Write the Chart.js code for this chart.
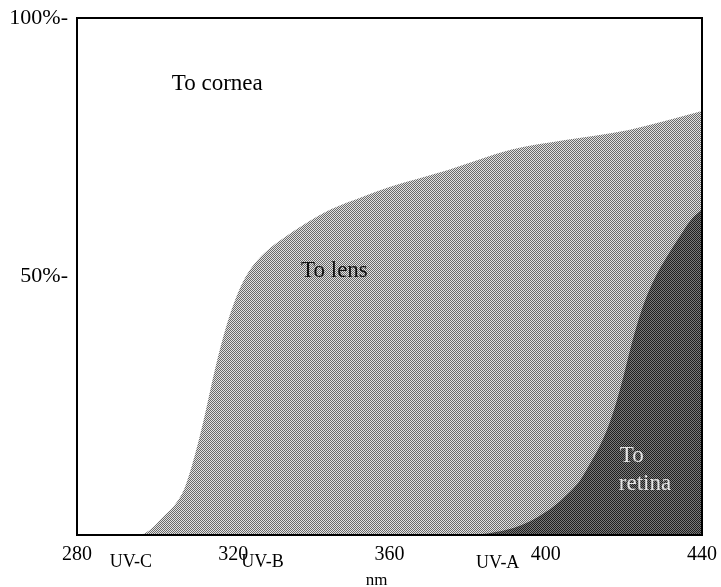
<!DOCTYPE html>
<html>
<head>
<meta charset="utf-8">
<script src="https://cdn.jsdelivr.net/npm/chart.js@4/dist/chart.umd.min.js"></script>
<style>
body{margin:0;background:#fff;}
#wrap{width:721px;height:587px;}
</style>
</head>
<body>
<div id="wrap"><canvas id="uvChart" width="721" height="587"></canvas></div>
<script>
// wavelength (nm) and % of UV reaching each structure
const lensNm=[280,296,299,302,305,307.5,310,312.5,315,317.5,320,322.5,325.5,329,333,338,345,353,360,375,391,405,421,440];
const lensPct=[0,0,1.2,3.5,5.8,9,15,22.5,31,38.5,44.5,49,52.5,55.2,57.5,60,63,65.4,67.3,70.6,74.5,76.4,78.3,82];

const retinaNm=[280,380,385,390,394,398,402,406,409,411.5,414,416,418,420,422,423.5,425.5,428,431,434.5,437,440];
const retinaPct=[0,0,0.3,1,2,3.5,5.5,8.2,10.8,14,17.5,21,25.5,31,37,41,45.5,49.8,53.8,58,60.8,63];

const xTicks=[280,320,360,400,440];
const yTicks=[50,100];

// band labels under the axis
const bandNames=["UV-C","UV-B","UV-A"];
const bandNm=[293.8,327.5,387.7];

const serif='"Liberation Serif", "DejaVu Serif", serif';

function stipple(a,b){
  const c=document.createElement("canvas");
  c.width=2;c.height=2;
  const g=c.getContext("2d");
  g.fillStyle=b;g.fillRect(0,0,2,2);
  g.fillStyle=a;g.fillRect(0,0,1,1);g.fillRect(1,1,1,1);
  return g.createPattern(c,"repeat");
}

function pts(xs,ys){
  return xs.map((x,i)=>({x:x,y:ys[i]}));
}

const labelsPlugin={
  id:"labels",
  afterDraw(chart){
    const ctx=chart.ctx, x=chart.scales.x, y=chart.scales.y, a=chart.chartArea;
    ctx.save();
    // frame
    ctx.strokeStyle="#000";
    ctx.lineWidth=2;
    ctx.strokeRect(a.left,a.top,a.right-a.left,a.bottom-a.top);
    ctx.textAlign="center";
    ctx.textBaseline="middle";
    ctx.fillStyle="#000";
    ctx.font="23px "+serif;
    ctx.fillText("To cornea",x.getPixelForValue(315.9),y.getPixelForValue(87.2));
    ctx.fillStyle="#111";
    ctx.fillText("To lens",x.getPixelForValue(345.9),y.getPixelForValue(51.1));
    ctx.fillStyle="#e4e4e4";
    ctx.fillText("To",x.getPixelForValue(422),y.getPixelForValue(15.3));
    ctx.fillText("retina",x.getPixelForValue(425.4),y.getPixelForValue(9.9));
    ctx.fillStyle="#000";
    ctx.font="18px "+serif;
    bandNames.forEach((n,i)=>{
      ctx.fillText(n,x.getPixelForValue(bandNm[i]),a.bottom+(i==2?28:27));
    });
    ctx.font="17px "+serif;
    ctx.fillText("nm",x.getPixelForValue(356.7),a.bottom+46);
    ctx.restore();
  }
};

new Chart(document.getElementById("uvChart"),{
  type:"line",
  data:{
    datasets:[{
      label:"To retina",
      data:pts(retinaNm,retinaPct),
      fill:"origin",
      backgroundColor:stipple("#1e1e1e","#7a7a7a"),
      borderWidth:0,
      pointRadius:0,
      cubicInterpolationMode:"monotone"
    },{
      label:"To lens",
      data:pts(lensNm,lensPct),
      fill:"origin",
      backgroundColor:stipple("#6a6a6a","#e2e2e2"),
      borderWidth:0,
      pointRadius:0,
      cubicInterpolationMode:"monotone"
    }]
  },
  options:{
    responsive:false,
    animation:false,
    layout:{padding:{top:18,right:19,left:0,bottom:0}},
    plugins:{legend:{display:false},tooltip:{enabled:false}},
    scales:{
      x:{
        type:"linear",
        min:280,max:440,
        grid:{display:false},
        border:{display:false},
        afterBuildTicks(s){s.ticks=xTicks.map(v=>({value:v}));},
        afterFit(s){s.height=52;},
        ticks:{color:"#000",font:{family:serif,size:20},padding:0,maxRotation:0}
      },
      y:{
        min:0,max:100,
        grid:{display:false},
        border:{display:false},
        afterBuildTicks(s){s.ticks=yTicks.map(v=>({value:v}));},
        afterFit(s){s.width=77;},
        ticks:{color:"#000",font:{family:serif,size:22},padding:1,callback:v=>v+"%-"}
      }
    }
  },
  plugins:[labelsPlugin]
});
</script>
</body>
</html>
